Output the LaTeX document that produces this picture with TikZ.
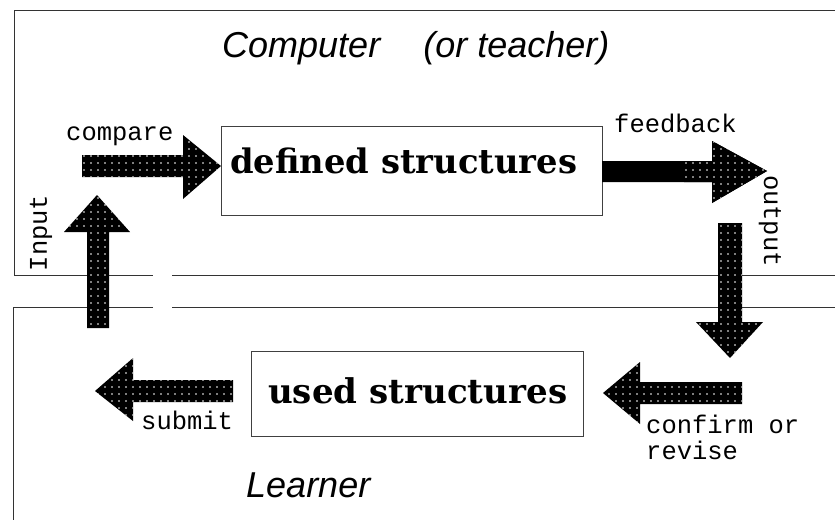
\documentclass[tikz,border=0pt]{standalone}
\usepackage{fontspec}
\setmainfont{DejaVu Serif}
\newfontfamily\monofnt{Liberation Mono}
\newfontfamily\sansfnt{Liberation Sans}
\usetikzlibrary{patterns.meta}
\tikzset{
  panel/.style={draw=black!80, line width=1pt},
  box/.style={draw=black!75, line width=1pt, fill=white},
  blockarrow/.style={fill=black, postaction={pattern={Dots[distance=7pt, radius=0.85pt]}, pattern color=white}},
  solidarrow/.style={fill=black},
  lbl/.style={font=\monofnt\fontsize{25.5}{26}\selectfont, inner sep=0pt},
  title/.style={font=\sansfnt\itshape\fontsize{36}{37}\selectfont, inner sep=0pt},
  boxtext/.style={font=\bfseries\fontsize{31}{32}\selectfont, inner sep=0pt}
}
\begin{document}
\begin{tikzpicture}[x=1pt,y=-1pt]
\useasboundingbox (0,0) rectangle (835,520);
% panels
\draw[panel] (835,10) -- (14,10) -- (14,275) -- (153,275);
\draw[panel] (172,275) -- (835,275);
\draw[panel] (835,307) -- (172,307);
\draw[panel] (153,307) -- (13,307) -- (13,520);
% titles
\node[title, anchor=base west] (comp) at (222,57) {Computer\hspace{1.2em}(or teacher)};
\node[title, anchor=base west] (learn) at (246,497) {Learner};
% boxes
\node[box, minimum width=381pt, minimum height=89pt, anchor=north west] (def) at (221,126) {};
\node[boxtext, anchor=base west] (deft) at (230,173) {\resizebox{347pt}{!}{defined structures}};
\node[box, minimum width=332pt, minimum height=85pt, anchor=north west] (used) at (251,351) {};
\node[boxtext, anchor=base west] (usedt) at (268,403) {\resizebox{299pt}{!}{used structures}};
% arrows
\fill[blockarrow] (82,155) -- (183,155) -- (183,135) -- (221,166) -- (183,199) -- (183,177) -- (82,177) -- cycle;
\fill[blockarrow] (87,328) -- (87,232) -- (64,232) -- (97,195) -- (130,232) -- (109,232) -- (109,328) -- cycle;
\fill[solidarrow] (602,161) -- (712,161) -- (712,141) -- (767,171) -- (712,203) -- (712,182) -- (602,182) -- cycle;
\begin{scope}
\clip (684,130) rectangle (780,215);
\fill[blockarrow] (602,161) -- (712,161) -- (712,141) -- (767,171) -- (712,203) -- (712,182) -- (602,182) -- cycle;
\end{scope}
\fill[blockarrow] (718,223) -- (742,223) -- (742,322) -- (763,322) -- (730,358) -- (696,322) -- (718,322) -- cycle;
\fill[blockarrow] (742,382) -- (640,382) -- (640,362) -- (603,393) -- (640,424) -- (640,404) -- (742,404) -- cycle;
\fill[blockarrow] (233,380) -- (133,380) -- (133,358) -- (95,391) -- (133,421) -- (133,402) -- (233,402) -- cycle;
% labels
\node[lbl, anchor=base west] (cmp) at (66,140) {compare};
\node[lbl, anchor=base west] (fb) at (614,132) {feedback};
\node[lbl, rotate=-90] (outp) at (770,221) {output};
\node[lbl, rotate=90] (inp) at (41,233) {Input};
\node[lbl, anchor=base west] (sub) at (141,429) {submit};
\node[lbl, anchor=base west, align=left] (conf) at (646,459) {confirm or\\revise};
\end{tikzpicture}
\end{document}
